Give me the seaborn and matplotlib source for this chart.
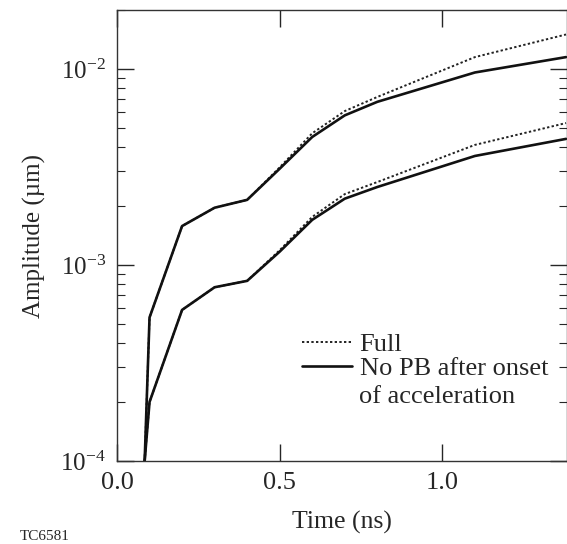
import numpy as np
import pandas as pd
import matplotlib
matplotlib.use("Agg")
import matplotlib.pyplot as plt
import seaborn as sns
from matplotlib.ticker import LogLocator, MultipleLocator, NullFormatter

# Time (ns) and amplitude (um)
t_solid = [0.085, 0.10, 0.20, 0.30, 0.40, 0.50, 0.60, 0.70, 0.80, 1.10, 1.38]
upper_nopb = [1.0e-4, 5.4e-4, 1.58e-3, 1.96e-3, 2.15e-3, 3.1e-3, 4.5e-3, 5.8e-3, 6.8e-3, 9.6e-3, 1.15e-2]
lower_nopb = [1.0e-4, 2.0e-4, 5.9e-4, 7.7e-4, 8.3e-4, 1.17e-3, 1.7e-3, 2.18e-3, 2.5e-3, 3.6e-3, 4.4e-3]
upper_full = [1.0e-4, 5.4e-4, 1.58e-3, 1.96e-3, 2.15e-3, 3.15e-3, 4.7e-3, 6.1e-3, 7.2e-3, 1.15e-2, 1.5e-2]
lower_full = [1.0e-4, 2.0e-4, 5.9e-4, 7.7e-4, 8.3e-4, 1.19e-3, 1.76e-3, 2.3e-3, 2.65e-3, 4.1e-3, 5.3e-3]

df = pd.DataFrame({
    "Time": t_solid * 4,
    "Amplitude": upper_full + lower_full + upper_nopb + lower_nopb,
    "curve": ["upper full"] * 11 + ["lower full"] * 11 + ["upper nopb"] * 11 + ["lower nopb"] * 11,
})

sns.set_style("ticks")
plt.rcParams["font.family"] = ["Liberation Serif", "DejaVu Serif"]
plt.rcParams["mathtext.fontset"] = "stix"

fig = plt.figure(figsize=(5.67, 5.44), dpi=100)
ax = fig.add_axes([117 / 567, 1 - 461 / 544, 1 - 117 / 567, (461 - 10) / 544])

styles = {
    "upper full": dict(color="#222222", lw=1.4, ls=(0, (1.2, 1.2))),
    "lower full": dict(color="#222222", lw=1.4, ls=(0, (1.2, 1.2))),
    "upper nopb": dict(color="#111111", lw=1.9, ls="-"),
    "lower nopb": dict(color="#111111", lw=1.9, ls="-"),
}
labels = {"upper full": "Full", "upper nopb": "No PB after onset"}
for name in ["upper full", "lower full", "upper nopb", "lower nopb"]:
    d = df[df["curve"] == name]
    sns.lineplot(data=d, x="Time", y="Amplitude", ax=ax, label=labels.get(name),
                 sort=False, estimator=None, **styles[name])

ax.set_yscale("log")
ax.set_xlim(0, 1.383)
ax.set_ylim(1e-4, 2e-2)
ax.xaxis.set_major_locator(MultipleLocator(0.5))
ax.xaxis.set_major_formatter(matplotlib.ticker.FormatStrFormatter("%.1f"))
ax.yaxis.set_major_locator(LogLocator(base=10, numticks=10))
ax.yaxis.set_minor_locator(LogLocator(base=10, subs=np.arange(2, 10), numticks=10))
ax.yaxis.set_minor_formatter(NullFormatter())

ax.tick_params(which="major", direction="in", length=12, width=1.0, labelsize=18,
               top=True, right=True, pad=8)
ax.tick_params(axis="x", labelsize=19)
ax.tick_params(which="minor", direction="in", length=6, width=0.8, right=True)
for s in ax.spines.values():
    s.set_linewidth(1.0)
    s.set_color("#333333")

ax.set_xlabel("Time (ns)", fontsize=18.5, labelpad=12)
ax.set_ylabel("Amplitude (µm)", fontsize=18, labelpad=10)

leg = ax.legend(loc="lower left", bbox_to_anchor=(0.41, 0.18), frameon=False,
                fontsize=19, handlelength=1.9, handletextpad=0.3, labelspacing=0.0,
                borderpad=0, borderaxespad=0)
ax.text((360 - 117) / 451, (461 - 397) / 451, "of acceleration", transform=ax.transAxes,
        fontsize=19, ha="left", va="center")

fig.text(20 / 567, 1 - 536 / 544, "TC6581", fontsize=11, va="center", ha="left")

fig.savefig("out.png", dpi=100)
